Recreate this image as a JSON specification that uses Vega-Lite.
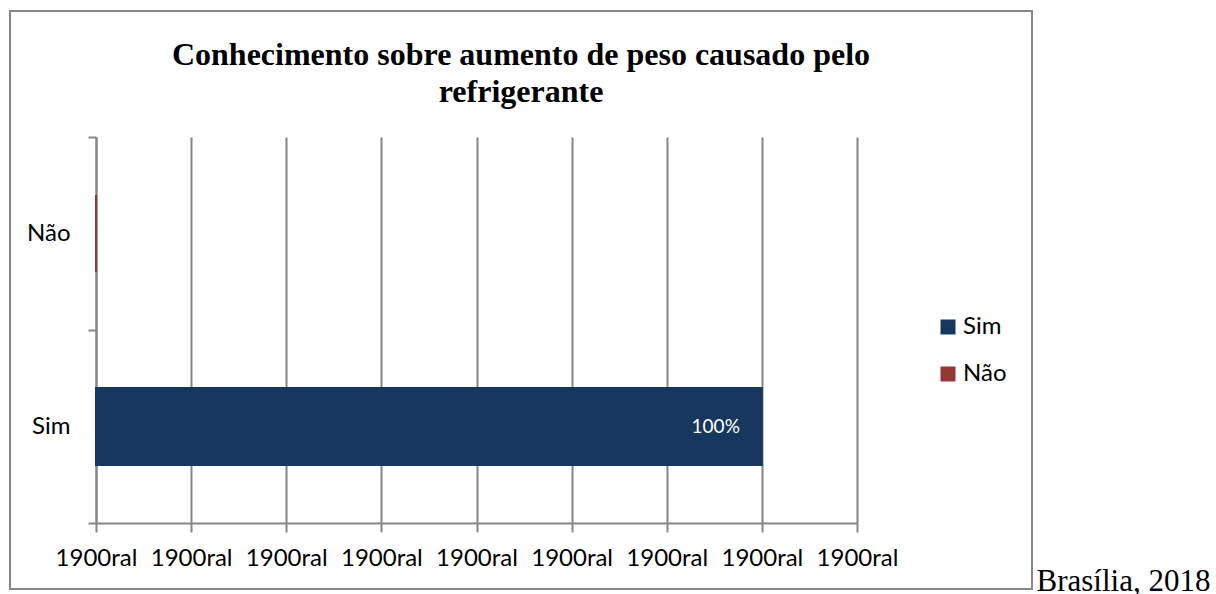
{
  "$schema": "https://vega.github.io/schema/vega-lite/v6.json",
  "autosize": "none",
  "padding": {"left": 10, "top": 11, "right": 184, "bottom": 5},
  "width": 1022,
  "height": 578,
  "background": "white",
  "config": {
    "view": {"stroke": "#868686", "strokeWidth": 2},
    "font": "Lato"
  },
  "title": {
    "text": ["Conhecimento sobre aumento de peso causado pelo", "refrigerante"],
    "font": "Liberation Serif",
    "fontSize": 32,
    "fontWeight": "bold",
    "color": "black",
    "anchor": "middle",
    "lineHeight": 37,
    "baseline": "top",
    "offset": 0,
    "dy": 110
  },
  "data": {
    "values": [
      {"resposta": "Sim", "pct": 100, "rotulo": "100%"},
      {"resposta": "Não", "pct": 0, "rotulo": "0%"}
    ]
  },
  "encoding": {
    "y": {
      "field": "resposta",
      "type": "nominal",
      "sort": ["Não", "Sim"],
      "scale": {"domain": ["Não", "Sim"], "range": [126, 512], "paddingInner": 0, "paddingOuter": 0},
      "axis": {
        "offset": -86,
        "tickBand": "extent",
        "tickSize": 8,
        "tickWidth": 2,
        "tickColor": "#868686",
        "domainColor": "#868686",
        "domainWidth": 2,
        "labelFont": "Lato",
        "labelFontSize": 24,
        "labelColor": "black",
        "labelPadding": 18,
        "title": null,
        "grid": false
      }
    }
  },
  "layer": [
    {
      "mark": {"type": "bar", "strokeWidth": 2, "height": {"band": 0.4}},
      "encoding": {
        "x": {
          "field": "pct",
          "type": "quantitative",
          "scale": {"domain": [0, 114.285714], "range": [86, 847], "nice": false, "zero": true},
          "axis": {
            "orient": "bottom",
            "values": [0, 14.285714, 28.571429, 42.857143, 57.142857, 71.428571, 85.714286, 100, 114.285714],
            "labelExpr": "'1900ral'",
            "grid": false,
            "offset": -66,
            "tickSize": 9,
            "tickWidth": 2,
            "tickColor": "#868686",
            "domainColor": "#868686",
            "domainWidth": 2,
            "labelFont": "Lato",
            "labelFontSize": 24,
            "labelColor": "black",
            "labelPadding": 14,
            "labelFlush": false,
            "labelOverlap": false,
            "title": "Brasília, 2018",
            "titleFont": "Liberation Serif",
            "titleFontSize": 31,
            "titleFontWeight": "normal",
            "titleColor": "black",
            "titleX": 1026,
            "titleY": 67,
            "titleAlign": "left",
            "titleBaseline": "alphabetic",
            "titleAnchor": "start"
          }
        },
        "color": {
          "field": "resposta",
          "type": "nominal",
          "scale": {"domain": ["Sim", "Não"], "range": ["#17375E", "#953735"]},
          "legend": {
            "orient": "none",
            "legendX": 926,
            "legendY": 304,
            "title": null,
            "symbolType": "square",
            "symbolSize": 225,
            "symbolStrokeWidth": 0,
            "labelFont": "Lato",
            "labelFontSize": 24,
            "labelColor": "black",
            "labelOffset": 3,
            "rowPadding": 23,
            "padding": 0
          }
        },
        "stroke": {
          "field": "resposta",
          "type": "nominal",
          "scale": {"domain": ["Sim", "Não"], "range": ["#17375E", "#953735"]},
          "legend": null
        }
      }
    },
    {
      "transform": [{"filter": "datum.pct > 0"}],
      "mark": {"type": "text", "align": "right", "dx": -22, "color": "white", "font": "Lato", "fontSize": 19},
      "encoding": {
        "x": {
          "field": "pct",
          "type": "quantitative",
          "axis": {
            "orient": "top",
            "values": [0, 14.285714, 28.571429, 42.857143, 57.142857, 71.428571, 85.714286, 100, 114.285714],
            "grid": true,
            "gridColor": "#868686",
            "gridWidth": 2,
            "labels": false,
            "ticks": false,
            "domain": false,
            "title": null
          }
        },
        "text": {"field": "rotulo"}
      }
    }
  ],
  "resolve": {"axis": {"x": "independent"}}
}
